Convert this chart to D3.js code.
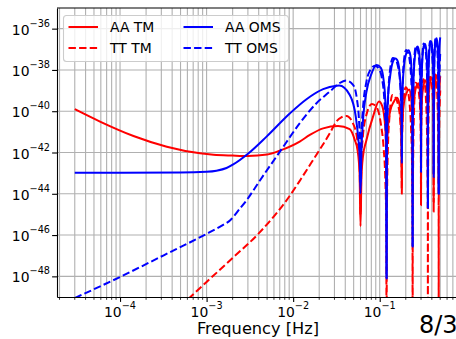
<!DOCTYPE html>
<html>
<head>
<meta charset="utf-8">
<script src="https://cdn.jsdelivr.net/npm/d3@7/dist/d3.min.js"></script>
<style>
    body { margin: 0; background: #fff; }
    text { font-family: "DejaVu Sans", sans-serif; fill: #000; }
</style>
</head>
<body>
<div id="chart"></div>
<script>

// ---- data, [frequency (Hz), PSD] ----
var aaTM = [
    [3e-5, 1.26e-40], [5.87e-5, 3.16e-41], [1.43e-4, 6.31e-42], [3.47e-4, 1.91e-42], [8.4e-4, 9.12e-43],
    [1.2e-3, 7.76e-43], [2e-3, 7.08e-43], [3e-3, 6.76e-43],
    [5e-3, 7.94e-43], [7e-3, 1.23e-42], [0.0119, 3.39e-42], [0.0156, 7.08e-42], [0.0222, 1.48e-41],
    [0.033, 1.91e-41], [0.045, 1.35e-41], [0.0515, 4.07e-42], [0.0555, 1.26e-42], [0.0585, 1e-43],
    [0.06, 2.69e-46],
    [0.0615, 6.31e-44], [0.064, 6.31e-43], [0.0703, 4.07e-42], [0.0837, 5.5e-41], [0.098, 2.95e-40],
    [0.107, 1.78e-40], [0.113, 5.01e-41], [0.117, 7.94e-42], [0.119, 6.31e-43], [0.12, 3.16e-45],
    [0.121, 1e-42], [0.124, 1.26e-41], [0.132, 1e-40], [0.145, 2.82e-40], [0.158, 4.47e-40],
    [0.168, 2.51e-40], [0.175, 3.16e-41], [0.178, 3.16e-42], [0.18, 1.78e-44],
    [0.181, 5.01e-42], [0.184, 5.01e-41], [0.192, 3.16e-40], [0.205, 7.94e-40], [0.218, 1.12e-39],
    [0.23, 5.01e-40], [0.236, 7.94e-41], [0.239, 6.31e-42], [0.24, 1e-44],
    [0.241, 1e-41], [0.245, 1.26e-40], [0.255, 7.94e-40], [0.268, 1.78e-39], [0.28, 2.24e-39],
    [0.292, 7.94e-40], [0.297, 1e-40], [0.2995, 6.31e-42], [0.3, 2.82e-45],
    [0.301, 1.26e-41], [0.305, 1.58e-40], [0.315, 1.12e-39], [0.34, 3.16e-39], [0.352, 1.26e-39],
    [0.357, 1.58e-40], [0.3595, 1e-41], [0.36, 3.16e-44],
    [0.361, 1.58e-41], [0.365, 2.51e-40], [0.375, 1.58e-39], [0.4, 4.47e-39], [0.412, 2e-39],
    [0.417, 2.51e-40], [0.4195, 1.26e-41], [0.42, 1.35e-45],
    [0.421, 2e-41], [0.425, 3.16e-40], [0.435, 2e-39], [0.46, 5.62e-39], [0.472, 2.51e-39],
    [0.477, 3.16e-40], [0.4795, 1.58e-41], [0.48, 3.16e-44],
    [0.481, 2.51e-41], [0.485, 3.98e-40], [0.492, 2e-39], [0.5, 5.01e-39]
];

var ttTM = [
    [5e-4, 3.55e-50], [6.5e-4, 1e-49], [1e-3, 5.37e-49], [2.06e-3, 8.71e-48], [4e-3, 1.2e-46],
    [9.27e-3, 8.71e-45], [0.0121, 4.68e-44], [0.017, 4.37e-43], [0.0265, 8.51e-42], [0.0316, 3.16e-41],
    [0.036, 5.01e-41], [0.0413, 5.89e-41], [0.0492, 2.51e-41], [0.0547, 5.01e-42], [0.0585, 3.16e-43],
    [0.06, 1e-45],
    [0.0615, 3.98e-43], [0.064, 6.31e-42], [0.07, 6.31e-41], [0.081, 2.24e-40], [0.092, 1.58e-40],
    [0.103, 2.51e-41], [0.111, 1.58e-42], [0.116, 5.01e-44], [0.119, 3.16e-46], [0.12, 1e-52],
    [0.121, 5.01e-46], [0.124, 1e-42], [0.13, 6.31e-41], [0.14, 6.17e-40], [0.15, 5.01e-40],
    [0.163, 2e-40], [0.173, 3.16e-41], [0.178, 1.58e-42], [0.18, 1e-44],
    [0.181, 2.51e-42], [0.184, 3.98e-41], [0.19, 5.01e-40], [0.2, 1.45e-39], [0.21, 1e-39],
    [0.222, 2e-40], [0.23, 1.58e-41], [0.236, 3.16e-43], [0.239, 1e-45], [0.24, 1e-52],
    [0.241, 1e-45], [0.244, 1e-42], [0.25, 1.58e-40], [0.26, 2.4e-39], [0.27, 2e-39],
    [0.285, 6.31e-40], [0.295, 6.31e-41], [0.2985, 2.51e-42], [0.3, 3.16e-45],
    [0.301, 5.01e-42], [0.304, 1e-40], [0.31, 1.26e-39], [0.32, 3.55e-39], [0.33, 2.51e-39],
    [0.342, 3.98e-40], [0.35, 2.51e-41], [0.356, 5.01e-43], [0.3595, 1e-45], [0.36, 1e-52],
    [0.361, 1.58e-45], [0.364, 1.58e-42], [0.37, 3.16e-40], [0.38, 4.68e-39], [0.39, 3.98e-39],
    [0.405, 1e-39], [0.415, 1e-40], [0.4185, 3.98e-42], [0.42, 3.98e-45],
    [0.421, 7.94e-42], [0.424, 1.58e-40], [0.43, 2e-39], [0.44, 6.03e-39], [0.45, 3.98e-39],
    [0.462, 6.31e-40], [0.47, 3.98e-41], [0.476, 7.94e-43], [0.4795, 1.58e-45], [0.48, 1e-52],
    [0.481, 3.16e-45], [0.485, 3.16e-42], [0.492, 1.26e-40], [0.5, 1e-39]
];

var aaOMS = [
    [3e-5, 1.05e-43], [1e-4, 1.05e-43], [5e-4, 1.07e-43], [1e-3, 1.17e-43], [1.3e-3, 1.32e-43],
    [1.7e-3, 1.78e-43], [2.03e-3, 2.63e-43], [3.03e-3, 8.91e-43], [4.93e-3, 5.89e-42], [9.2e-3, 7.94e-41],
    [0.01426, 3.8e-40], [0.0222, 1.17e-39], [0.0316, 1.7e-39], [0.034, 1.74e-39], [0.0451, 6.17e-40],
    [0.0529, 5.5e-41], [0.0565, 5.01e-42], [0.0588, 5.01e-43], [0.06, 1.05e-44],
    [0.0615, 1.26e-42], [0.064, 3.16e-41], [0.07, 7.94e-40], [0.08, 6.31e-39], [0.092, 1.74e-38],
    [0.103, 1.26e-38], [0.111, 3.16e-39], [0.116, 3.16e-40], [0.119, 1e-41], [0.12, 7.94e-49],
    [0.121, 1e-41], [0.124, 3.16e-40], [0.132, 5.01e-39], [0.142, 2.51e-38], [0.152, 3.55e-38],
    [0.162, 2.51e-38], [0.171, 5.01e-39], [0.177, 3.16e-40], [0.1795, 2.51e-41], [0.18, 6.31e-43],
    [0.181, 1e-40], [0.184, 1.26e-39], [0.192, 2e-38], [0.205, 7.08e-38], [0.215, 8.91e-38],
    [0.226, 5.01e-38], [0.234, 6.31e-39], [0.238, 3.98e-40], [0.2395, 3.16e-41], [0.24, 2.69e-47],
    [0.241, 6.31e-41], [0.244, 1.26e-39], [0.252, 2.51e-38], [0.265, 1.12e-37], [0.275, 1.35e-37],
    [0.286, 6.31e-38], [0.294, 7.94e-39], [0.298, 6.31e-40], [0.2995, 5.01e-41], [0.3, 1.17e-43],
    [0.301, 1e-40], [0.304, 2e-39], [0.312, 3.98e-38], [0.325, 1.58e-37], [0.335, 1.82e-37],
    [0.346, 7.94e-38], [0.354, 1e-38], [0.358, 7.94e-40], [0.3595, 6.31e-41], [0.36, 2e-45],
    [0.361, 1.26e-40], [0.364, 2.51e-39], [0.372, 5.01e-38], [0.385, 2e-37], [0.395, 2.4e-37],
    [0.406, 1e-37], [0.414, 1.26e-38], [0.418, 1e-39], [0.4195, 1e-40], [0.42, 6.31e-44],
    [0.421, 2e-40], [0.424, 3.98e-39], [0.432, 7.94e-38], [0.445, 2.82e-37], [0.455, 3.39e-37],
    [0.466, 1.41e-37], [0.474, 2e-38], [0.478, 1.58e-39], [0.4795, 1.58e-40], [0.48, 1e-44],
    [0.481, 3.16e-40], [0.484, 6.31e-39], [0.49, 1e-37], [0.5, 3.8e-37]
];

var ttOMS = [
    [3e-5, 8.91e-50], [1e-4, 9.33e-49], [3.2e-4, 1.05e-47], [9.4e-4, 1e-46], [1.5e-3, 2.88e-46],
    [1.875e-3, 5.25e-46], [2.4e-3, 1.82e-45], [2.9e-3, 4.9e-45], [4.17e-3, 4.68e-44], [7.03e-3, 1.1e-42],
    [0.01194, 2.63e-41], [0.0186, 2.45e-40], [0.0265, 8.91e-40], [0.034, 2.24e-39], [0.041, 3.09e-39],
    [0.0492, 1.91e-39], [0.0547, 3.55e-40], [0.0585, 1e-41], [0.06, 3.16e-44],
    [0.0615, 6.31e-42], [0.064, 1.26e-40], [0.07, 2.51e-39], [0.078, 1e-38], [0.088, 1.58e-38],
    [0.098, 1.12e-38], [0.106, 3.98e-39], [0.112, 6.31e-40], [0.116, 3.98e-41], [0.119, 3.16e-43],
    [0.12, 7.94e-49],
    [0.121, 5.01e-43], [0.124, 1.58e-40], [0.13, 6.31e-39], [0.142, 3.8e-38], [0.152, 3.16e-38],
    [0.162, 1.58e-38], [0.171, 3.16e-39], [0.177, 2e-40], [0.1795, 1.58e-41], [0.18, 3.16e-43],
    [0.181, 6.31e-41], [0.184, 1.58e-39], [0.19, 2.51e-38], [0.202, 9.33e-38], [0.212, 7.08e-38],
    [0.222, 2.82e-38], [0.23, 5.01e-39], [0.235, 5.01e-40], [0.238, 1.58e-41], [0.24, 2.69e-47],
    [0.241, 5.01e-42], [0.244, 1e-39], [0.25, 3.16e-38], [0.262, 1.41e-37], [0.272, 1.12e-37],
    [0.282, 5.01e-38], [0.29, 1e-38], [0.296, 6.31e-40], [0.2995, 2.51e-41], [0.3, 1e-43],
    [0.301, 3.98e-41], [0.304, 1.26e-39], [0.31, 3.98e-38], [0.322, 1.91e-37], [0.332, 1.41e-37],
    [0.342, 6.31e-38], [0.35, 1e-38], [0.355, 1e-39], [0.358, 3.98e-41], [0.36, 2e-45],
    [0.361, 1e-41], [0.364, 2e-39], [0.37, 6.31e-38], [0.382, 2.51e-37], [0.392, 2e-37],
    [0.402, 7.94e-38], [0.41, 1.26e-38], [0.416, 7.94e-40], [0.4195, 3.98e-41], [0.42, 1e-43],
    [0.421, 6.31e-41], [0.424, 2.51e-39], [0.43, 7.94e-38], [0.442, 3.55e-37], [0.452, 2.82e-37],
    [0.462, 1.12e-37], [0.47, 1.58e-38], [0.475, 1.58e-39], [0.478, 5.01e-41], [0.48, 1e-44],
    [0.481, 1e-42], [0.485, 3.16e-40], [0.492, 1e-38], [0.5, 6.31e-38]
];

var seriesNames = ['AA TM', 'TT TM', 'AA OMS', 'TT OMS'];
var seriesData = [aaTM, ttTM, aaOMS, ttOMS];
var seriesColors = ['red', 'red', 'blue', 'blue'];
var seriesDashed = [false, true, false, true];

var xTicks = [1e-4, 1e-3, 1e-2, 1e-1];
var xTickExp = ['\u22124', '\u22123', '\u22122', '\u22121'];
var yTicks = [1e-48, 1e-46, 1e-44, 1e-42, 1e-40, 1e-38, 1e-36];
var yTickExp = ['\u221248', '\u221246', '\u221244', '\u221242', '\u221240', '\u221238', '\u221236'];

// ---- layout ----  (note: "top" is taken by window.top, so plotX / plotY names)
var W = 456, H = 339;
var plotL = 57, plotR = 459, plotT = 8, plotB = 297;

var svg = d3.select('#chart').append('svg')
    .attr('width', W).attr('height', H)
    .style('display', 'block');

var x = d3.scaleLog().domain([1.87e-5, 0.824]).range([plotL, plotR]);
var y = d3.scaleLog().domain([1e-49, 1e-35]).range([plotB, plotT]);

// minor x positions (2..9 of every decade inside the range)
var xMinor = [];
for (var e = -5; e <= -1; e++) {
    for (var m = 2; m <= 9; m++) {
        var v = m * Math.pow(10, e);
        if (v > x.domain()[0] && v < x.domain()[1]) xMinor.push(v);
    }
}

svg.append('defs').append('clipPath').attr('id', 'plotclip')
    .append('rect').attr('x', plotL).attr('y', plotT)
    .attr('width', plotR - plotL).attr('height', plotB - plotT);

// grid
var grid = svg.append('g').attr('stroke', '#b0b0b0').attr('stroke-width', 1.1);
grid.selectAll('.gx').data(xTicks.concat(xMinor)).enter().append('line')
    .attr('x1', d => x(d)).attr('x2', d => x(d))
    .attr('y1', plotT).attr('y2', plotB);
grid.selectAll('.gy').data(yTicks).enter().append('line')
    .attr('x1', plotL).attr('x2', plotR)
    .attr('y1', d => y(d)).attr('y2', d => y(d));

// curves
var line = d3.line()
    .x(d => x(d[0]))
    .y(d => y(d[1]))
    .curve(d3.curveMonotoneX);

var curves = svg.append('g').attr('clip-path', 'url(#plotclip)');
seriesData.forEach(function (data, i) {
    curves.append('path')
        .attr('d', line(data))
        .attr('fill', 'none')
        .attr('stroke', seriesColors[i])
        .attr('stroke-width', 2)
        .attr('stroke-linejoin', 'round')
        .attr('stroke-dasharray', seriesDashed[i] ? '7.4,3.2' : null);
});

// axes
var xAxis = svg.append('g').attr('transform', 'translate(0,' + plotB + ')')
    .call(d3.axisBottom(x).tickValues(xTicks).tickSize(4.9).tickSizeOuter(0).tickFormat(''));
xAxis.append('g').selectAll('line').data(xMinor).enter().append('line')
    .attr('x1', d => x(d)).attr('x2', d => x(d))
    .attr('y1', 0).attr('y2', 2.8).attr('stroke', '#000').attr('stroke-width', 0.8);

var yAxis = svg.append('g').attr('transform', 'translate(' + plotL + ',0)')
    .call(d3.axisLeft(y).tickValues(yTicks).tickSize(4.9).tickSizeOuter(0).tickFormat(''));

[xAxis, yAxis].forEach(function (a) {
    a.select('.domain').attr('stroke', '#000').attr('stroke-width', 1.1);
    a.selectAll('.tick line').attr('stroke', '#000').attr('stroke-width', 1.1);
});

// top spine (right one falls outside the picture)
svg.append('line').attr('x1', plotL).attr('x2', plotR).attr('y1', plotT).attr('y2', plotT)
    .attr('stroke', '#000').attr('stroke-width', 1.1);

// tick labels with superscript exponents
xTicks.forEach(function (t, i) {
    var tx = svg.append('text')
        .attr('x', x(t)).attr('y', 316.5)
        .attr('text-anchor', 'middle')
        .attr('font-size', 13.9);
    tx.append('tspan').text('10');
    tx.append('tspan').attr('dy', -8).attr('font-size', 9.7).text(xTickExp[i]);
});

yTicks.forEach(function (t, i) {
    var ty = svg.append('text')
        .attr('x', 50).attr('y', y(t) + 6)
        .attr('text-anchor', 'end')
        .attr('font-size', 13.9);
    ty.append('tspan').text('10');
    ty.append('tspan').attr('dy', -8).attr('font-size', 9.7).text(yTickExp[i]);
});

svg.append('text')
    .attr('x', (plotL + plotR) / 2).attr('y', 334)
    .attr('text-anchor', 'middle')
    .attr('font-size', 16.2)
    .text('Frequency [Hz]');

svg.append('text')
    .attr('x', 419).attr('y', 333)
    .attr('font-size', 24)
    .text('8/3');

// legend, two columns
var legend = svg.append('g');
legend.append('rect')
    .attr('x', 63.5).attr('y', 15.5).attr('width', 225).attr('height', 46)
    .attr('rx', 3).attr('ry', 3)
    .attr('fill', '#fff').attr('fill-opacity', 0.8)
    .attr('stroke', '#cccccc').attr('stroke-width', 1.1);

seriesNames.forEach(function (name, i) {
    var col = Math.floor(i / 2), row = i % 2;
    var lx = col === 0 ? 68.5 : 183.5;
    var ly = row === 0 ? 27 : 48;
    legend.append('line')
        .attr('x1', lx).attr('x2', lx + 29.5)
        .attr('y1', ly).attr('y2', ly)
        .attr('stroke', seriesColors[i]).attr('stroke-width', 2)
        .attr('stroke-dasharray', seriesDashed[i] ? '7.4,3.2' : null);
    legend.append('text')
        .attr('x', lx + 41.5).attr('y', ly + 5)
        .attr('font-size', 13.9)
        .text(name);
});

</script>
</body>
</html>
